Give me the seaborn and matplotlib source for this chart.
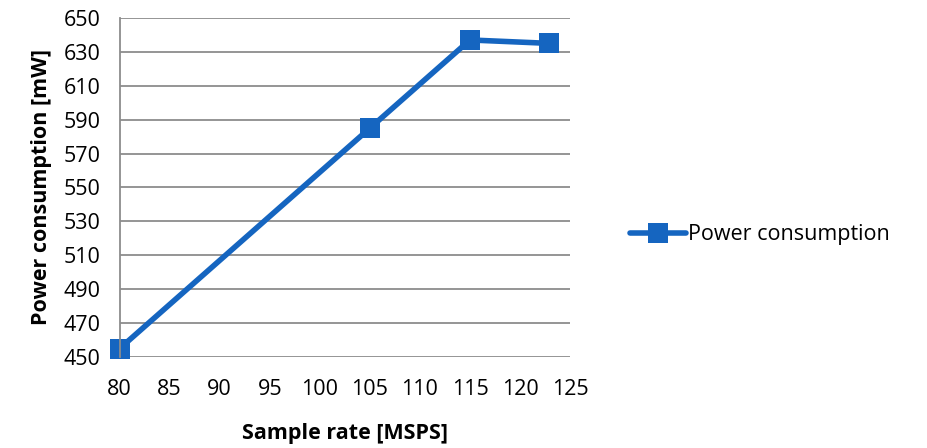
import numpy as np
import matplotlib
matplotlib.use('Agg')
import matplotlib.pyplot as plt
import pandas as pd
import seaborn as sns

# Данные
sample_rate = [80, 105, 115, 122.88]
power = [455, 585, 637, 635]
series_name = 'Power consumption'

df = pd.DataFrame({'Sample rate': sample_rate, 'Power': power, 'Series': series_name})

sns.set_style('white')
plt.rcParams['font.family'] = ['Open Sans', 'DejaVu Sans']
plt.rcParams['text.color'] = 'black'
plt.rcParams['xtick.color'] = 'black'
plt.rcParams['ytick.color'] = 'black'
plt.rcParams['axes.labelcolor'] = 'black'

fig = plt.figure(figsize=(9.27, 4.48), dpi=100)
ax = fig.add_axes([0.129, 0.203, 0.486, 0.757])

sns.lineplot(data=df, x='Sample rate', y='Power', hue='Series', palette=['#1565c0'],
             marker='s', markersize=14, markeredgewidth=0, linewidth=4, ax=ax,
             clip_on=False)

ax.set_xlim(80, 125)
ax.set_ylim(450, 650)
ax.set_xticks(np.arange(80, 126, 5))
ax.set_yticks(np.arange(450, 651, 20))
ax.yaxis.grid(True, color='#8c8c8c', linewidth=1.3)
ax.tick_params(axis='both', length=0, labelsize=15.5)
ax.tick_params(axis='y', pad=14)
ax.tick_params(axis='x', pad=16)
for s in ['top', 'right', 'bottom']:
    ax.spines[s].set_visible(False)
ax.spines['left'].set_color('#8c8c8c')
ax.spines['left'].set_linewidth(1.3)

ax.set_xlabel('Sample rate [MSPS]', fontsize=15.5, fontweight='bold', labelpad=16)
ax.set_ylabel('Power consumption [mW]', fontsize=15.5, fontweight='bold', labelpad=8)

ax.legend(loc='center left', bbox_to_anchor=(1.09, 0.36), frameon=False,
          fontsize=15.5, handlelength=2.6, handletextpad=0.1)

fig.savefig('out.png', dpi=100)
